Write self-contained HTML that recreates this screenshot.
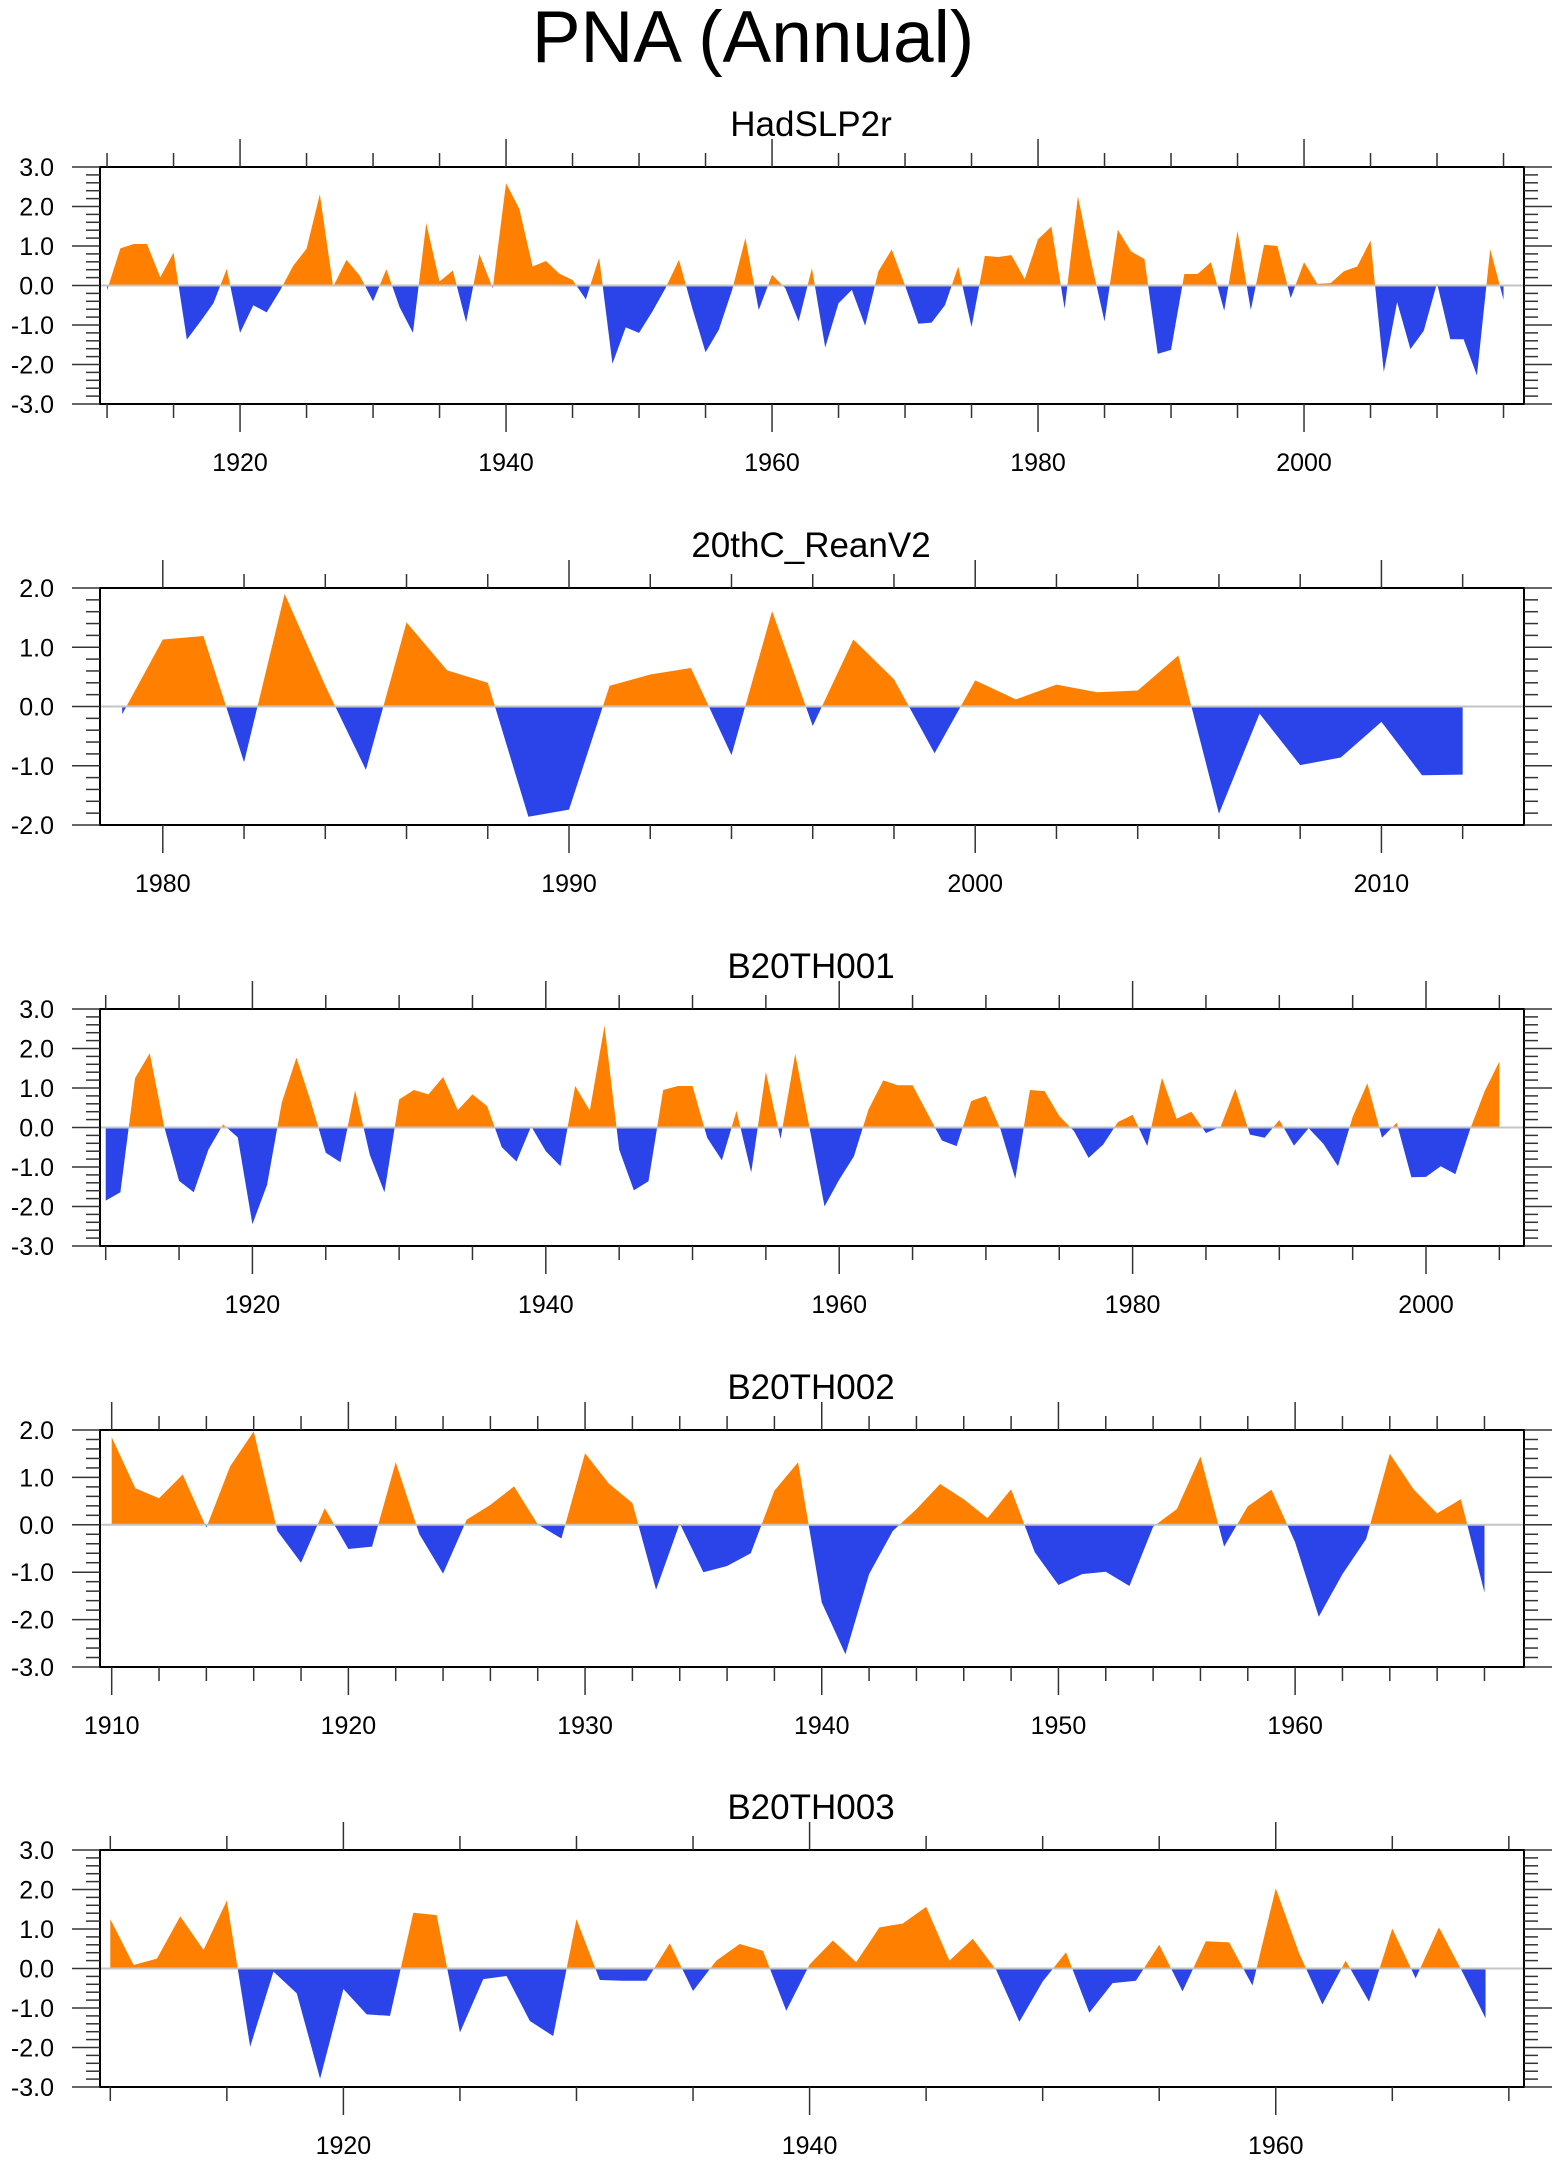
<!DOCTYPE html>
<html><head><meta charset="utf-8"><title>PNA (Annual)</title>
<style>
html,body{margin:0;padding:0;background:#fff;}
svg{display:block;}
text{font-family:"Liberation Sans",Arial,sans-serif;fill:#000;}
</style></head>
<body>
<svg id="chart" width="1560" height="2165" viewBox="0 0 1560 2165" xmlns="http://www.w3.org/2000/svg">
<text x="753" y="62" font-size="73" text-anchor="middle">PNA (Annual)</text>
<g id="panels"></g>
</svg>
<script>
// ---- data ----
const panelTitles = ["HadSLP2r", "20thC_ReanV2", "B20TH001", "B20TH002", "B20TH003"];
const startYears = [1910, 1979, 1910, 1910, 1910];

const hadValues = [-0.12,0.94,1.05,1.05,0.21,0.83,-1.37,-0.92,-0.45,0.42,
 -1.2,-0.5,-0.68,-0.13,0.5,0.93,2.31,-0.03,0.65,0.25,
 -0.4,0.41,-0.55,-1.2,1.58,0.1,0.38,-0.93,0.79,-0.07,
 2.59,1.94,0.48,0.62,0.3,0.14,-0.35,0.71,-1.98,-1.06,
 -1.2,-0.66,-0.06,0.65,-0.57,-1.69,-1.12,-0.11,1.2,-0.62,
 0.27,-0.07,-0.91,0.44,-1.57,-0.45,-0.11,-1.02,0.36,0.91,
 0.0,-0.97,-0.94,-0.5,0.48,-1.05,0.75,0.72,0.77,0.16,
 1.17,1.49,-0.59,2.26,0.6,-0.91,1.41,0.86,0.67,-1.73,
 -1.63,0.29,0.29,0.59,-0.64,1.38,-0.62,1.03,1.0,-0.32,
 0.59,0.04,0.06,0.36,0.48,1.14,-2.19,-0.42,-1.61,-1.15,
 0.06,-1.36,-1.36,-2.28,0.92,-0.36];
const reanValues = [-0.13,1.13,1.19,-0.94,1.9,0.35,-1.07,1.42,0.61,0.4,
 -1.86,-1.74,0.35,0.54,0.65,-0.82,1.61,-0.33,1.13,0.46,
 -0.79,0.44,0.12,0.37,0.24,0.27,0.86,-1.81,-0.12,-0.99,
 -0.86,-0.26,-1.16,-1.15];
const b001Values = [-1.85,-1.64,1.25,1.88,0.0,-1.35,-1.64,-0.56,0.08,-0.25,
 -2.45,-1.45,0.63,1.77,0.63,-0.64,-0.88,0.94,-0.69,-1.64,
 0.71,0.95,0.84,1.28,0.44,0.84,0.54,-0.5,-0.86,0.03,
 -0.6,-0.98,1.05,0.43,2.58,-0.56,-1.59,-1.36,0.95,1.05,
 1.05,-0.26,-0.83,0.42,-1.14,1.41,-0.29,1.86,-0.05,-2.0,
 -1.32,-0.73,0.46,1.19,1.07,1.07,0.37,-0.33,-0.47,0.67,
 0.8,-0.05,-1.3,0.95,0.92,0.29,-0.09,-0.77,-0.43,0.14,
 0.32,-0.47,1.26,0.22,0.4,-0.14,0.02,0.98,-0.18,-0.26,
 0.19,-0.46,-0.02,-0.41,-0.98,0.27,1.12,-0.26,0.12,-1.26,
 -1.25,-0.98,-1.18,-0.05,0.92,1.67];
const b002Values = [1.85,0.77,0.56,1.06,-0.06,1.23,1.97,-0.13,-0.8,0.35,
 -0.51,-0.46,1.32,-0.2,-1.03,0.11,0.42,0.81,0.01,-0.29,
 1.51,0.87,0.46,-1.37,0.03,-1.0,-0.87,-0.6,0.72,1.32,
 -1.64,-2.73,-1.04,-0.13,0.33,0.86,0.54,0.14,0.75,-0.58,
 -1.27,-1.04,-0.99,-1.29,-0.04,0.33,1.44,-0.46,0.39,0.74,
 -0.37,-1.94,-1.04,-0.3,1.5,0.75,0.24,0.54,-1.43];
const b003Values = [1.25,0.09,0.25,1.32,0.47,1.72,-1.98,-0.08,-0.63,-2.79,
 -0.52,-1.16,-1.2,1.41,1.35,-1.62,-0.27,-0.19,-1.33,-1.71,
 1.25,-0.29,-0.31,-0.31,0.64,-0.57,0.2,0.62,0.45,-1.07,
 0.1,0.71,0.16,1.04,1.14,1.56,0.2,0.75,-0.03,-1.35,
 -0.33,0.41,-1.12,-0.37,-0.31,0.6,-0.58,0.69,0.66,-0.43,
 2.03,0.39,-0.91,0.2,-0.84,1.01,-0.25,1.04,-0.08,-1.26];
const seriesValues = [hadValues, reanValues, b001Values, b002Values, b003Values];

// axis domains and tick settings (years / values)
const xDomains = [[1909.47,2016.54],[1978.454,2013.51],[1909.61,2006.68],[1909.506,1969.67],[1909.558,1970.65]];
const yDomains = [[-3,3],[-2,2],[-3,3],[-3,2],[-3,3]];
const xMajorSteps = [20,10,20,10,20];
const xMinorSteps = [5,2,5,2,5];

// ---- layout ----
const NS = "http://www.w3.org/2000/svg";
const BOX_L = 100, BOX_R = 1524, BOX_H = 237;
const panelTops = [167, 588, 1009, 1430, 1850];
const ORANGE = "#ff8000", BLUE = "#2a44ea";

function mk(tag, attrs, parent) {
  const e = document.createElementNS(NS, tag);
  for (const k in attrs) e.setAttribute(k, attrs[k]);
  parent.appendChild(e);
  return e;
}
const root = document.getElementById("panels");

panelTitles.forEach((title, p) => {
  const top = panelTops[p], bot = top + BOX_H;
  const [x0, x1] = xDomains[p], [y0, y1] = yDomains[p];
  const xs = yr => BOX_L + (yr - x0) / (x1 - x0) * (BOX_R - BOX_L);
  const ys = v => bot - (v - y0) / (y1 - y0) * BOX_H;
  const g = mk("g", {}, root);
  
  

  const t = mk("text", {x: 811, y: top - 31, "font-size": 35, "text-anchor": "middle"}, g);
  t.textContent = title;
  
  

  // fill areas
  const vals = seriesValues[p], sy = startYears[p];
  const z = ys(0);
  let d = "M" + xs(sy) + "," + z;
  vals.forEach((v, i) => { d += " L" + xs(sy + i).toFixed(2) + "," + ys(v).toFixed(2); });
  d += " L" + xs(sy + vals.length - 1).toFixed(2) + "," + z + " Z";
  const defs = mk("defs", {}, g);
  const cu = mk("clipPath", {id: "cu" + p}, defs);
  mk("rect", {x: BOX_L, y: top, width: BOX_R - BOX_L, height: z - top}, cu);
  const cd = mk("clipPath", {id: "cd" + p}, defs);
  mk("rect", {x: BOX_L, y: z, width: BOX_R - BOX_L, height: bot - z}, cd);
  const pos = mk("path", {d: d, fill: ORANGE, "clip-path": "url(#cu" + p + ")"}, g);
  
  
  const neg = mk("path", {d: d, fill: BLUE, "clip-path": "url(#cd" + p + ")"}, g);
  
  

  // zero line
  const zl = mk("line", {x1: BOX_L, x2: BOX_R, y1: z, y2: z, stroke: "#c4c4c4", "stroke-width": 2}, g);
  
  

  // box
  const box = mk("rect", {x: BOX_L, y: top, width: BOX_R - BOX_L, height: BOX_H, fill: "none", stroke: "#000", "stroke-width": 2}, g);
  
  

  // x ticks
  const mj = xMajorSteps[p], mn = xMinorSteps[p];
  for (let yr = Math.ceil(x0 / mn) * mn; yr <= x1; yr += mn) {
    const x = xs(yr), major = yr % mj === 0, L = major ? 28 : 14;
    mk("line", {x1: x, x2: x, y1: top, y2: top - L, stroke: "#333", "stroke-width": 1.5}, g);
    mk("line", {x1: x, x2: x, y1: bot, y2: bot + L, stroke: "#333", "stroke-width": 1.5}, g);
    if (major) {
      const tl = mk("text", {x: x, y: bot + 67, "font-size": 25, "text-anchor": "middle"}, g);
      tl.textContent = yr;
      
      
    }
  }
  // y ticks
  for (let k = Math.round(y0 * 5); k <= Math.round(y1 * 5); k++) {
    const v = k / 5, y = ys(v), major = k % 5 === 0, L = major ? 28 : 14;
    mk("line", {x1: BOX_L, x2: BOX_L - L, y1: y, y2: y, stroke: "#333", "stroke-width": 1.5}, g);
    mk("line", {x1: BOX_R, x2: BOX_R + L, y1: y, y2: y, stroke: "#333", "stroke-width": 1.5}, g);
    if (major) {
      const yl = mk("text", {x: 54, y: y + 9, "font-size": 25, "text-anchor": "end"}, g);
      yl.textContent = v.toFixed(1);
      
      
    }
  }
});
</script>
</body></html>
